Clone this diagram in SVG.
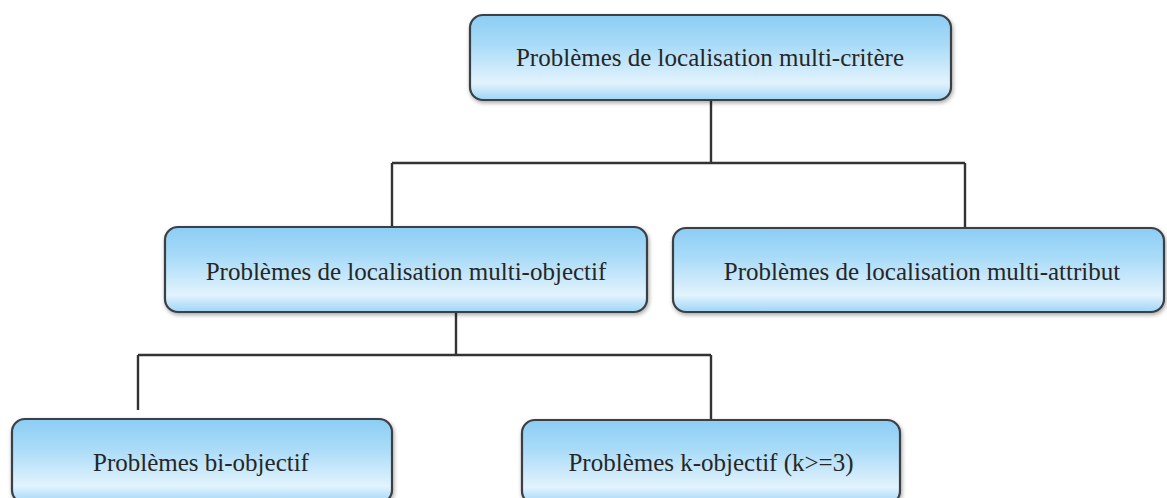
<svg xmlns="http://www.w3.org/2000/svg" width="1167" height="498" viewBox="0 0 1167 498">
  <defs>
    <linearGradient id="boxFill" x1="0" y1="0" x2="0" y2="1">
      <stop offset="0" stop-color="#8ccdf4"/>
      <stop offset="0.35" stop-color="#a9dbf8"/>
      <stop offset="0.8" stop-color="#e2f3fd"/>
      <stop offset="1" stop-color="#9ed5f6"/>
    </linearGradient>
    <filter id="halo" x="-5%" y="-20%" width="110%" height="140%">
      <feGaussianBlur in="SourceAlpha" stdDeviation="2"/>
      <feOffset dx="1" dy="2" result="b"/>
      <feComponentTransfer><feFuncA type="linear" slope="0.35"/></feComponentTransfer>
      <feMerge><feMergeNode/><feMergeNode in="SourceGraphic"/></feMerge>
    </filter>
  </defs>
  <style>
    .box { fill: url(#boxFill); stroke: #3a3f44; stroke-width: 2.2; filter: url(#halo); }
    .label { font-family: "Liberation Serif", "Times New Roman", serif; font-size: 25px; fill: #262626; text-anchor: middle; }
    .link { fill: none; stroke: #333; stroke-width: 2.4; }
  </style>
  <rect width="1167" height="498" fill="#ffffff"/>

  <g id="connectors">
    <path class="link" d="M711 100 V163 M392 163 H965 M392 163 V228 M965 163 V228"/>
    <path class="link" d="M456 313 V355 M138 355 H711 M138 355 V410 M711 355 V419"/>
  </g>

  <g id="node-multicritere">
    <rect class="box" x="470" y="15" width="481" height="85" rx="13"/>
    <text class="label" x="710" y="66">Problèmes de localisation multi-critère</text>
  </g>

  <g id="node-multiobjectif">
    <rect class="box" x="165" y="227" width="482" height="85" rx="13"/>
    <text class="label" x="406" y="280">Problèmes de localisation multi-objectif</text>
  </g>

  <g id="node-multiattribut">
    <rect class="box" x="673" y="228" width="491" height="84" rx="13"/>
    <text class="label" x="922" y="280">Problèmes de localisation multi-attribut</text>
  </g>

  <g id="node-biobjectif">
    <rect class="box" x="12" y="419" width="380" height="84" rx="13"/>
    <text class="label" x="201" y="471">Problèmes bi-objectif</text>
  </g>

  <g id="node-kobjectif">
    <rect class="box" x="522" y="420" width="378" height="84" rx="13"/>
    <text class="label" x="711" y="471">Problèmes k-objectif (k&gt;=3)</text>
  </g>
</svg>
